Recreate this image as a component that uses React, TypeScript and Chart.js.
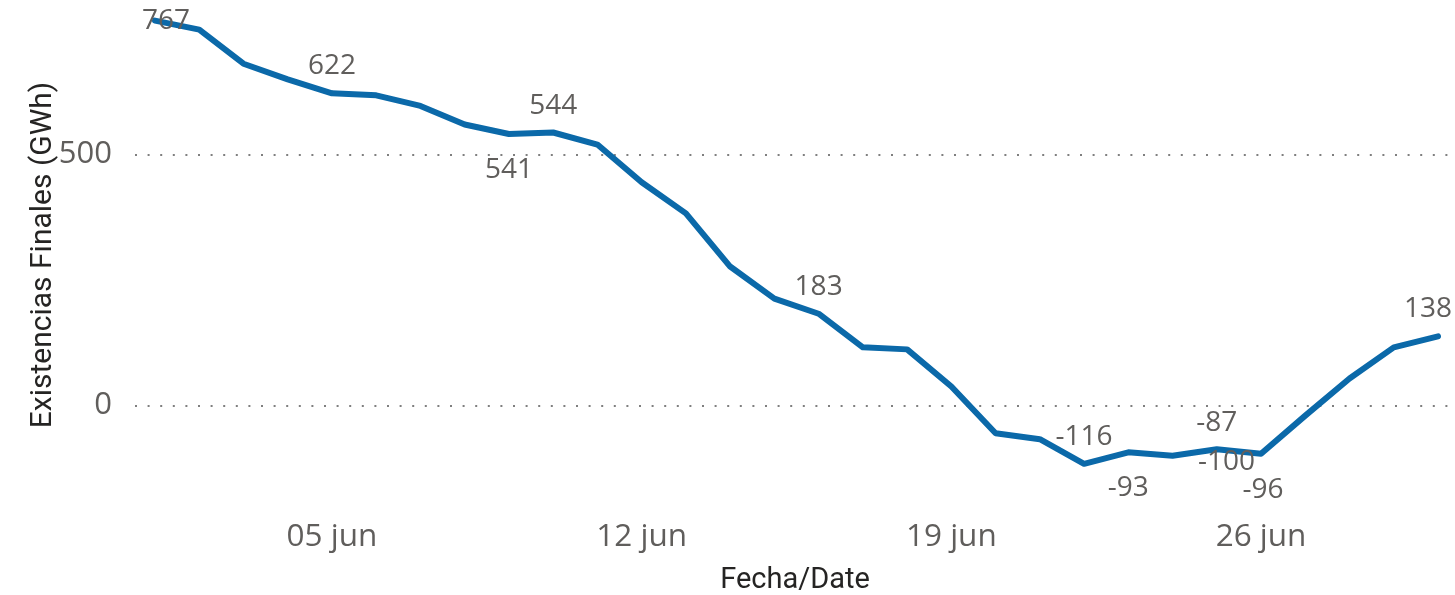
import React, { useEffect, useRef } from "react";
import { Chart, registerables } from "chart.js";

Chart.register(...registerables);

// ---- data ----
const dayNumbers: number[] = Array.from({ length: 30 }, (_, i) => i + 1);
const dateLabels: string[] = [
  "01 jun", "02 jun", "03 jun", "04 jun", "05 jun", "06 jun", "07 jun", "08 jun", "09 jun", "10 jun",
  "11 jun", "12 jun", "13 jun", "14 jun", "15 jun", "16 jun", "17 jun", "18 jun", "19 jun", "20 jun",
  "21 jun", "22 jun", "23 jun", "24 jun", "25 jun", "26 jun", "27 jun", "28 jun", "29 jun", "30 jun",
];
const existencias: number[] = [
  767, 749, 681, 650, 622, 618, 597, 560, 541, 544,
  520, 445, 383, 277, 213, 183, 116, 112, 38, -55,
  -67, -116, -93, -100, -87, -96, -20, 54, 116, 138,
];
const xTickDays: number[] = [5, 12, 19, 26];
const yTickValues: number[] = [0, 500];
const labeledIndices: number[] = [0, 4, 8, 9, 15, 21, 22, 23, 24, 25, 29];

// label placement offsets (px) relative to the point, keyed by index
const labelOffsets: Record<number, [number, number]> = {
  0: [11, 0],
  4: [0, -27],
  8: [0, 36],
  9: [0, -26],
  15: [0, -27],
  21: [0, -27],
  22: [0, 36],
  23: [54, 6],
  24: [0, -26],
  25: [2, 36],
  29: [-10, -27],
};

const LINE_COLOR = "#0B69A9";
const LABEL_COLOR = "#605E5C";
const TITLE_COLOR = "#252423";
const LABEL_FONT = "28px 'Open Sans'";

const dataLabelPlugin = {
  id: "dataLabels",
  afterDatasetsDraw(chart: any) {
    const meta = chart.getDatasetMeta(0);
    const ctx = chart.ctx;
    ctx.save();
    ctx.font = LABEL_FONT;
    ctx.fillStyle = LABEL_COLOR;
    ctx.textAlign = "center";
    ctx.textBaseline = "middle";
    labeledIndices.forEach((i) => {
      const el = meta.data[i];
      if (!el) return;
      const [dx, dy] = labelOffsets[i] || [0, -27];
      ctx.fillText(String(existencias[i]), el.x + dx, el.y + dy);
    });
    ctx.restore();
  },
};

export default function App() {
  const canvasRef = useRef<HTMLCanvasElement | null>(null);

  useEffect(() => {
    if (!canvasRef.current) return;
    const chart = new Chart(canvasRef.current, {
      type: "line",
      data: {
        datasets: [
          {
            data: dayNumbers.map((d, i) => ({ x: d, y: existencias[i] })),
            borderColor: LINE_COLOR,
            backgroundColor: LINE_COLOR,
            borderWidth: 6,
            pointRadius: 0,
            pointHoverRadius: 0,
            tension: 0,
            borderCapStyle: "round",
            borderJoinStyle: "round",
            clip: false as any,
          },
        ],
      },
      options: {
        animation: false,
        responsive: true,
        maintainAspectRatio: false,
        layout: { padding: { top: 4, right: 0, left: 0, bottom: 0 } },
        plugins: {
          legend: { display: false },
          tooltip: { enabled: false },
        },
        scales: {
          x: {
            type: "linear",
            min: 0.548,
            max: 30.384,
            afterBuildTicks: (scale: any) => {
              scale.ticks = xTickDays.map((v) => ({ value: v }));
            },
            afterFit: (scale: any) => {
              scale.height = 89;
              scale.paddingLeft = 0;
              scale.paddingRight = 0;
            },
            grid: { display: false, drawTicks: false },
            border: { display: false },
            ticks: {
              autoSkip: false,
              maxRotation: 0,
              padding: 15,
              color: LABEL_COLOR,
              font: { family: "'Open Sans'", size: 31.5, lineHeight: 1 },
              callback: (v: any) => dateLabels[Math.round(Number(v)) - 1] ?? "",
            },
            title: {
              display: true,
              text: "Fecha/Date",
              color: TITLE_COLOR,
              font: { family: "Roboto", size: 29, lineHeight: 1 },
              padding: { top: 0, bottom: 0 },
            },
          },
          y: {
            type: "linear",
            min: -200,
            max: 800,
            afterBuildTicks: (scale: any) => {
              scale.ticks = yTickValues.map((v) => ({ value: v }));
            },
            afterFit: (scale: any) => {
              scale.width = 135;
              scale.paddingTop = 0;
              scale.paddingBottom = 0;
            },
            grid: {
              color: "#7f7f7f",
              lineWidth: 2,
              drawTicks: false,
            },
            border: { display: false, dash: [2, 10.6] },
            ticks: {
              padding: 23,
              color: LABEL_COLOR,
              font: { family: "'Open Sans'", size: 31, lineHeight: 1 },
              callback: (v: any) => String(v),
            },
            title: {
              display: true,
              text: "Existencias Finales (GWh)",
              color: TITLE_COLOR,
              font: { family: "Roboto", size: 30, lineHeight: 1 },
              padding: { top: 28, bottom: 0 },
            },
          },
        },
      },
      plugins: [dataLabelPlugin],
    });
    return () => chart.destroy();
  }, []);

  return (
    <div style={{ position: "fixed", left: 0, top: 0, width: 1455, height: 595, background: "#fff" }}>
      <canvas ref={canvasRef} />
    </div>
  );
}
